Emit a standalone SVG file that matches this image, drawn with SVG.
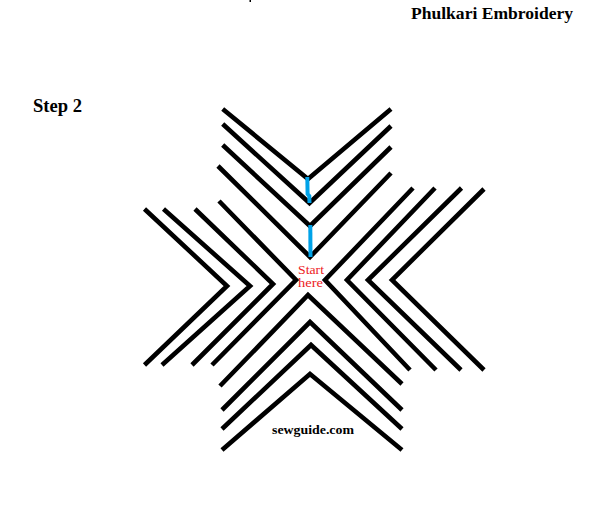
<svg xmlns="http://www.w3.org/2000/svg" width="598" height="513" viewBox="0 0 598 513">
  <style>
    .ln { fill: none; stroke: #000; stroke-width: 4.6; stroke-linejoin: miter; stroke-miterlimit: 10; stroke-linecap: butt; }
    .blue { fill: none; stroke: #00a2e8; stroke-width: 4; stroke-linecap: butt; }
    .hd { font-family: "Liberation Serif", "Times New Roman", serif; font-weight: bold; fill: #000; }
    .red { font-family: "Liberation Serif", "Times New Roman", serif; fill: #ed1c24; font-size: 12px; }
  </style>
  <rect x="0" y="0" width="598" height="513" fill="#fff"/>
  <rect x="249.5" y="0" width="1.5" height="2" fill="#000"/>

  <text class="hd" x="411" y="19" font-size="17.5" textLength="162" lengthAdjust="spacingAndGlyphs">Phulkari Embroidery</text>
  <text class="hd" x="33" y="112" font-size="18" textLength="49" lengthAdjust="spacingAndGlyphs">Step 2</text>

  <g id="top-arm">
    <polyline class="ln" points="222.7,109 308,179 391,109"/>
    <polyline class="ln" points="222.7,124 309.5,203 391,126"/>
    <polyline class="ln" points="222.7,145 310,226 391,147"/>
    <polyline class="ln" points="218,166 310,257 391,173"/>
  </g>
  <g id="left-arm">
    <polyline class="ln" points="144.5,209 227,286 144.5,365"/>
    <polyline class="ln" points="163.5,209 250,286 162,365"/>
    <polyline class="ln" points="195,209 273,284 192,365"/>
    <polyline class="ln" points="219,201 296,280 212,365"/>
  </g>
  <g id="right-arm">
    <polyline class="ln" points="413,188 325,280 410,370"/>
    <polyline class="ln" points="435,188 347,280 436,370"/>
    <polyline class="ln" points="461.5,188 368,280 461,370"/>
    <polyline class="ln" points="484,189 392,280 484,370"/>
  </g>
  <g id="bottom-arm">
    <polyline class="ln" points="220,386 308,295 402,384"/>
    <polyline class="ln" points="222,410 310,322 402,410"/>
    <polyline class="ln" points="222,429 311,345 402,429"/>
    <polyline class="ln" points="222,450 310,374 402,450"/>
  </g>
  <g id="stitches">
    <polyline class="blue" points="307.3,177 307.6,194 309.3,196 309.5,203"/>
    <line class="blue" x1="310.3" y1="225" x2="310.5" y2="257"/>
  </g>

  <g id="start-label">
    <text class="red" x="298" y="274" textLength="26" lengthAdjust="spacingAndGlyphs">Start</text>
    <text class="red" x="298" y="287" textLength="25" lengthAdjust="spacingAndGlyphs">here</text>
  </g>
  <text class="hd" x="272" y="434" font-size="13" textLength="82" lengthAdjust="spacingAndGlyphs">sewguide.com</text>
</svg>
